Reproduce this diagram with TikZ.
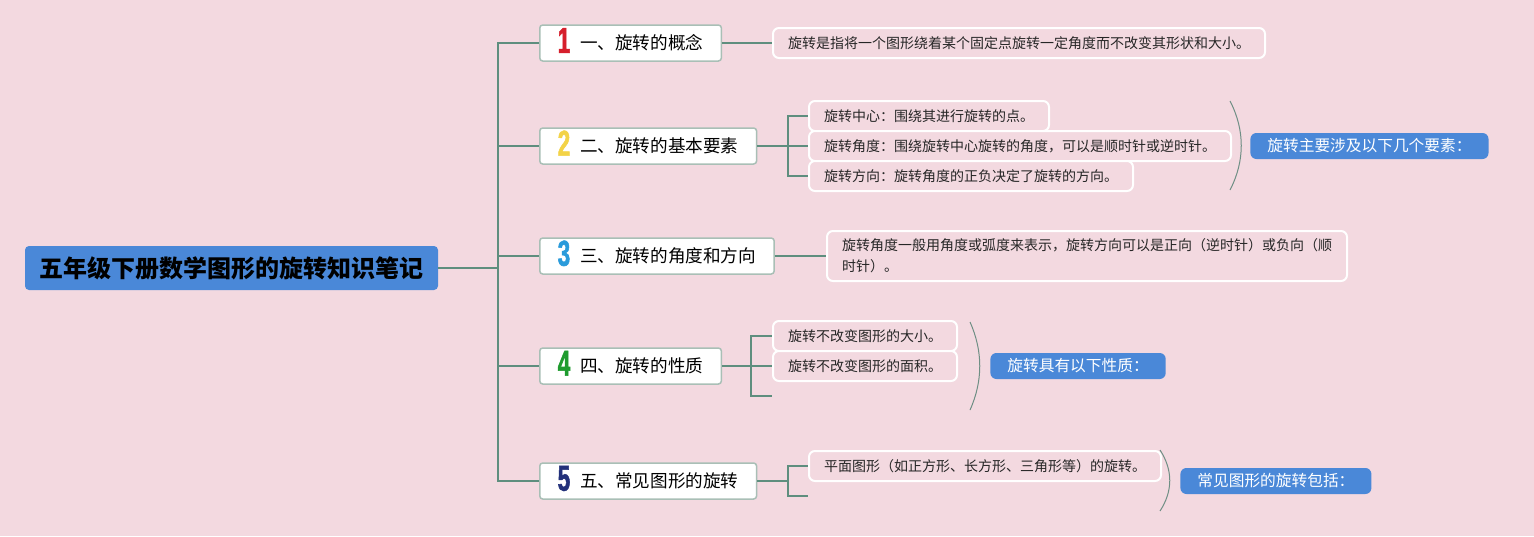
\documentclass[tikz,border=0pt]{standalone}
\usepackage{fontspec}
\setmainfont{Noto Sans CJK SC}
\newfontfamily\numfont[FakeStretch=0.62,FakeBold=1.5]{Liberation Sans}
\usepackage{tikz}
\usetikzlibrary{positioning}
\definecolor{bgpink}{HTML}{F3D9E0}
\definecolor{tagblue}{HTML}{4A88D8}
\definecolor{topicline}{HTML}{A9BFB6}
\definecolor{branchline}{HTML}{5E8E7E}
\definecolor{braceline}{HTML}{6F8F85}
\definecolor{leaftext}{HTML}{262626}
\definecolor{numred}{HTML}{D61F2C}
\definecolor{numyellow}{HTML}{F3D347}
\definecolor{numblue}{HTML}{2A9BDB}
\definecolor{numgreen}{HTML}{1E9B2E}
\definecolor{numnavy}{HTML}{22307A}
\tikzset{
x=0.5pt, y=-0.5pt, % one unit is one pixel of the layout
rootbox/.style={fill=tagblue, rounded corners=2pt, minimum width=206.5pt, minimum height=22pt, inner sep=0pt, font=\bfseries\fontsize{12pt}{14pt}\selectfont}, % the title
topic/.style={draw=topicline, fill=white, line width=0.75pt, rounded corners=1.5pt, minimum height=18pt, inner xsep=9pt, inner ysep=0pt, anchor=west, font=\fontsize{8.8pt}{10pt}\selectfont}, % numbered chapters
leaf/.style={draw=white, fill=bgpink, line width=1pt, rounded corners=3pt, minimum height=15pt, inner xsep=7.5pt, inner ysep=0pt, anchor=west, text=leaftext, font=\fontsize{7pt}{10.5pt}\selectfont}, % notes
tag/.style={fill=tagblue, rounded corners=3pt, minimum height=13pt, inner xsep=8.5pt, inner ysep=0pt, anchor=west, text=white, font=\fontsize{7.85pt}{9pt}\selectfont}, % summaries
branch/.style={draw=branchline, line width=1pt}, % tree lines
brace/.style={draw=braceline, line width=0.5pt}, % grouping arcs
}
\newcommand{\tnum}[2]{\smash{\raisebox{-1.5pt}{\numfont\bfseries\fontsize{18pt}{18pt}\selectfont\color{#1}#2}}\hspace{5pt}}

\begin{document}
\begin{tikzpicture}
  \useasboundingbox (0,0) rectangle (1534,536);
  \fill[bgpink] (0,0) rectangle (1534,536);

  \node[rootbox] (root) at (231.5,268) {五年级下册数学图形的旋转知识笔记};

  \node[topic] (b1) at (539,43) {\tnum{numred}{1}一、旋转的概念};
  \node[topic] (b2) at (539,146) {\tnum{numyellow}{2}二、旋转的基本要素};
  \node[topic] (b3) at (539,256) {\tnum{numblue}{3}三、旋转的角度和方向};
  \node[topic] (b4) at (539,366) {\tnum{numgreen}{4}四、旋转的性质};
  \node[topic] (b5) at (539,481) {\tnum{numnavy}{5}五、常见图形的旋转};

  \node[leaf] (l1) at (772,43) {旋转是指将一个图形绕着某个固定点旋转一定角度而不改变其形状和大小。};
  \node[leaf] (l21) at (808,116) {旋转中心：围绕其进行旋转的点。};
  \node[leaf] (l22) at (808,146) {旋转角度：围绕旋转中心旋转的角度，可以是顺时针或逆时针。};
  \node[leaf] (l23) at (808,176) {旋转方向：旋转角度的正负决定了旋转的方向。};
  \node[leaf, minimum height=25pt, align=left] (l3) at (826,256) {旋转角度一般用角度或弧度来表示，旋转方向可以是正向（逆时针）或负向（顺\\时针）。};
  \node[leaf] (l41) at (772,336) {旋转不改变图形的大小。};
  \node[leaf] (l42) at (772,366) {旋转不改变图形的面积。};
  \coordinate (e43) at (772,396);
  \node[leaf] (l51) at (808,466) {平面图形（如正方形、长方形、三角形等）的旋转。};
  \coordinate (e52) at (808,496);

  \node[tag] (t2) at (1250,146) {旋转主要涉及以下几个要素：};
  \node[tag] (t4) at (990,366) {旋转具有以下性质：};
  \node[tag] (t5) at (1180,481) {常见图形的旋转包括：};

  \coordinate (hub) at (498,268);
  \coordinate (h2) at (788,146);
  \coordinate (h4) at (751,366);
  \coordinate (h5) at (788,481);

  \draw[branch] (root.east) -- (hub);
  \foreach \b in {b1,b2,b3,b4,b5}
    \draw[branch] (hub) |- (\b.west);
  \draw[branch] (b1.east) -- (l1.west);
  \draw[branch] (b2.east) -- (h2);
  \foreach \l in {l21,l22,l23}
    \draw[branch] (h2) |- (\l.west);
  \draw[branch] (b3.east) -- (l3.west);
  \draw[branch] (b4.east) -- (h4);
  \foreach \l in {l41,l42,e43}
    \draw[branch] (h4) |- (\l.west);
  \draw[branch] (b5.east) -- (h5);
  \foreach \l in {l51,e52}
    \draw[branch] (h5) |- (\l.west);

  \draw[brace] (1230,101) .. controls (1245,130) and (1245,161) .. (1230,190);
  \draw[brace] (970,322) .. controls (983,351) and (983,381) .. (970,410);
  \draw[brace] (1160,450) .. controls (1173,470) and (1173,491) .. (1160,511);
\end{tikzpicture}
\end{document}
